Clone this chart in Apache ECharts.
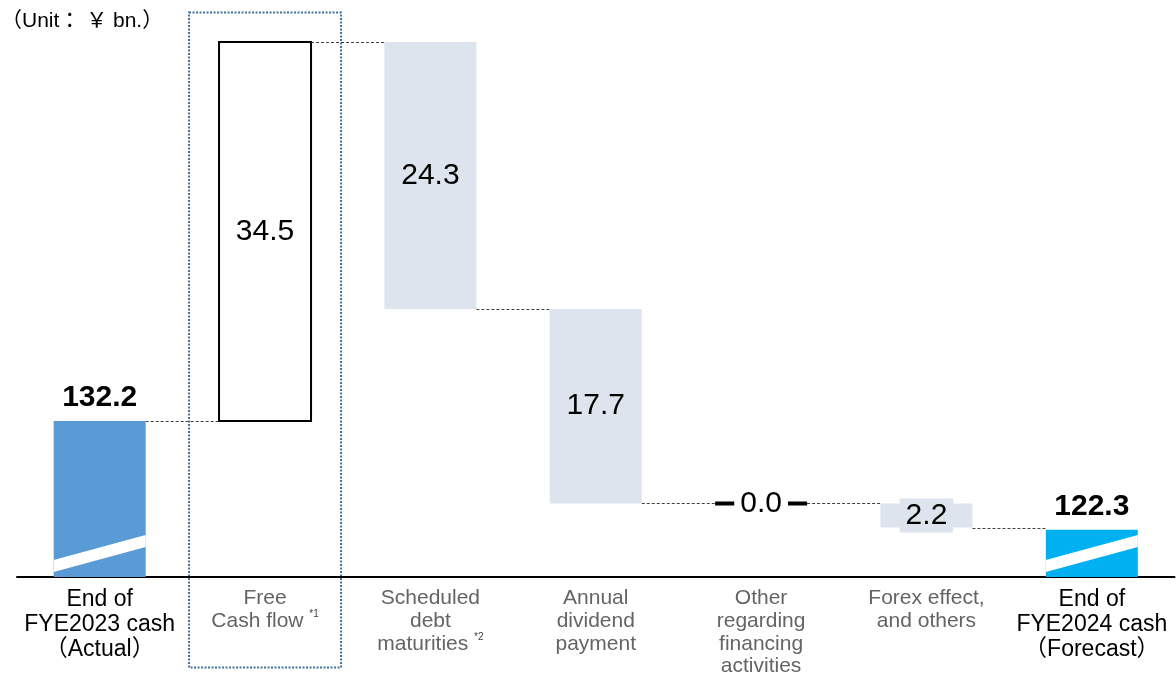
<!DOCTYPE html>
<html><head><meta charset="utf-8">
<script src="https://cdn.jsdelivr.net/npm/echarts@6/dist/echarts.min.js"></script>
<style>html,body{margin:0;padding:0;background:#fff}#c{width:1176px;height:677px}</style>
</head><body><div id="c"></div>
<script>
// ---- data ----
const categories = ['End of\nFYE2023 cash\n（Actual）', 'Free\nCash flow', 'Scheduled\ndebt\nmaturities', 'Annual\ndividend\npayment', 'Other\nregarding\nfinancing\nactivities', 'Forex effect,\nand others', 'End of\nFYE2024 cash\n（Forecast）'];
const footnotes = ['', '*1', '*2', '', '', '', ''];
const values = [132.2, 34.5, -24.3, -17.7, 0.0, -2.2, 122.3];
const kinds = ['total', 'delta', 'delta', 'delta', 'delta', 'delta', 'total'];
const valueLabels = ['132.2', '34.5', '24.3', '17.7', '0.0', '2.2', '122.3'];
const yMin = 118, yMax = 166.7;
const unitLabel = '（Unit： ￥ bn.）';

// ---- build ----
const FONT = '"Liberation Sans", Arial, "Noto Sans CJK JP", sans-serif';
const totalColors = ['#5B9BD5', '#00B0F0'];
const deltaFill = '#DEE4ED';
const data = [];
let running = 0;
for (let i = 0; i < values.length; i++) {
  let s, e;
  if (kinds[i] === 'total') { s = yMin; e = values[i]; running = values[i]; }
  else { s = running; e = running + values[i]; running = e; }
  data.push([i, s, e]);
}
const n = data.length;

function renderItem(params, api) {
  const i = api.value(0);
  const p0 = api.coord([i, api.value(1)]);
  const p1 = api.coord([i, api.value(2)]);
  const bw = 92;
  const x = p0[0] - bw / 2;
  const top = Math.min(p0[1], p1[1]);
  const bot = Math.max(p0[1], p1[1]);
  const children = [];
  if (i < n - 1) {
    const nx = api.coord([i + 1, api.value(2)]);
    const ly = Math.round(p1[1]) + 0.5;
    children.push({type: 'line', shape: {x1: x + bw, y1: ly, x2: nx[0] - bw / 2, y2: ly},
      style: {stroke: '#404040', lineWidth: 1, lineDash: [3, 2]}});
  }
  const v = values[i];
  if (kinds[i] === 'total') {
    const col = i === 0 ? totalColors[0] : totalColors[1];
    children.push({type: 'rect', shape: {x: x, y: top, width: bw, height: bot - top}, style: {fill: col}});
    children.push({type: 'polygon', shape: {points: [[x, bot - 17], [x + bw, bot - 42], [x + bw, bot - 30], [x, bot - 5]]}, style: {fill: '#fff'}});
    children.push({type: 'text', style: {text: valueLabels[i], x: p0[0], y: top - 23, align: 'center', verticalAlign: 'middle',
      font: 'bold 30px ' + FONT, fill: '#000'}});
  } else {
    let bg;
    if (v > 0) {
      children.push({type: 'rect', shape: {x: x, y: top, width: bw, height: bot - top}, style: {fill: '#fff', stroke: '#000', lineWidth: 2}});
      bg = '#fff';
    } else if (v < 0) {
      children.push({type: 'rect', shape: {x: x, y: top, width: bw, height: bot - top}, style: {fill: deltaFill}});
      bg = deltaFill;
    } else {
      children.push({type: 'rect', shape: {x: x, y: p1[1] - 2, width: bw, height: 4}, style: {fill: '#000'}});
      bg = '#fff';
    }
    children.push({type: 'text', style: {text: valueLabels[i], x: p0[0], y: (top + bot) / 2, align: 'center', verticalAlign: 'middle',
      font: '30px ' + FONT, fill: '#000', backgroundColor: bg, padding: [2, 6]}});
  }
  return {type: 'group', children: children};
}

const chart = echarts.init(document.getElementById('c'));
chart.setOption({
  animation: false,
  grid: {left: 17, right: 1.5, top: 42, bottom: 100},
  xAxis: {
    type: 'category', data: categories,
    axisLine: {onZero: false, lineStyle: {color: '#000', width: 2}},
    axisTick: {show: false}, splitLine: {show: false},
    axisLabel: {
      interval: 0, margin: 10,
      formatter: function (val, idx) {
        const st = kinds[idx] === 'total' ? 'b' : 'g';
        const lines = val.split('\n');
        return lines.map(function (l, k) {
          let s = '{' + st + '|' + l + (k === lines.length - 1 && footnotes[idx] ? ' ' : '') + '}';
          if (k === lines.length - 1 && footnotes[idx]) s += '{s|' + footnotes[idx] + '}';
          return s;
        }).join('\n');
      },
      rich: {
        b: {color: '#000', fontSize: 23, lineHeight: 25, fontFamily: FONT},
        g: {color: '#646464', fontSize: 21, lineHeight: 22.7, fontFamily: FONT},
        s: {color: '#404040', fontSize: 10, lineHeight: 11, verticalAlign: 'top', fontFamily: FONT}
      }
    }
  },
  yAxis: {type: 'value', min: yMin, max: yMax, show: false},
  series: [{type: 'custom', renderItem: renderItem, data: data, clip: false, encode: {x: 0, y: [1, 2]}}]
});

const cx = chart.convertToPixel({xAxisIndex: 0}, categories[1]);
chart.setOption({
  graphic: [
    {type: 'rect', silent: true, shape: {x: cx - 76, y: 12.5, width: 152, height: 655},
      style: {fill: 'none', stroke: '#41719C', lineWidth: 2, lineDash: [2, 1.5]}},
    {type: 'text', silent: true, left: 1, top: 11,
      style: {text: unitLabel, font: '21px ' + FONT, fill: '#000'}}
  ]
});
</script>
</body></html>
